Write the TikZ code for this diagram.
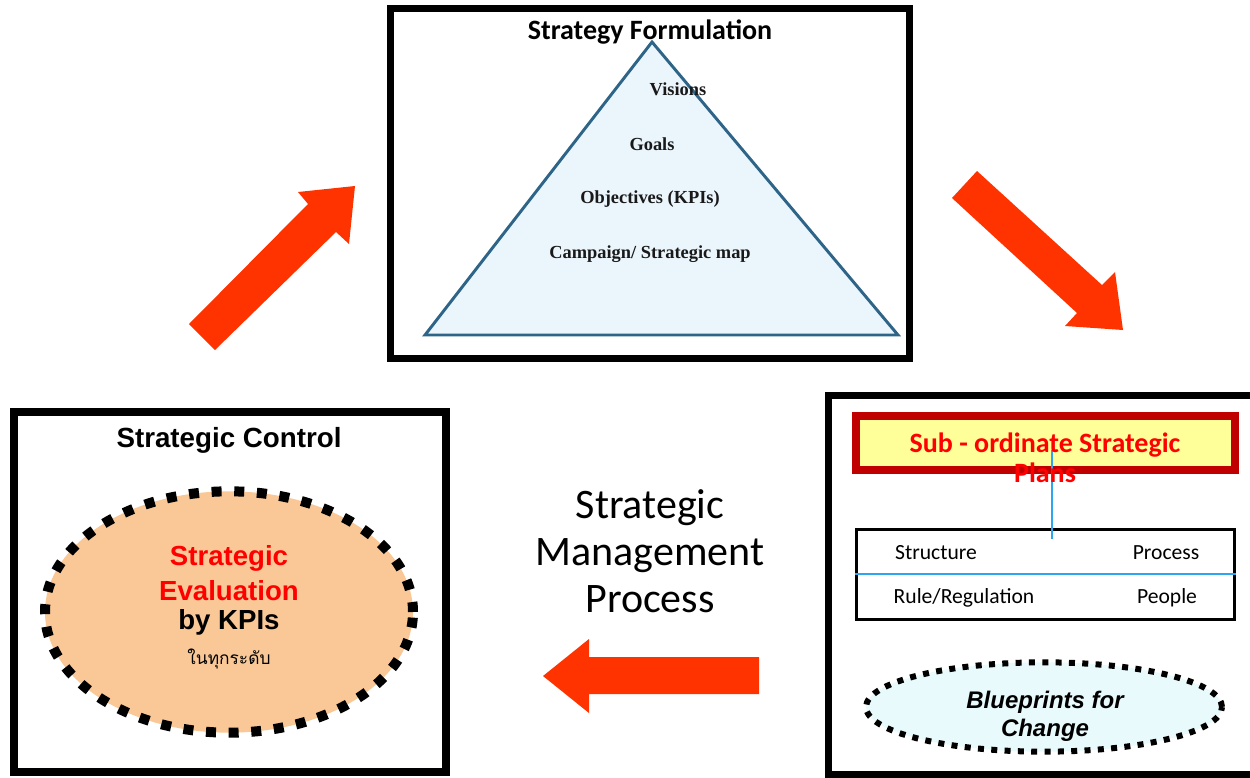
\documentclass[tikz,border=0pt]{standalone}
\usepackage{fontspec}
\setmainfont{Liberation Serif}
\newfontfamily\calibri{Carlito}
\newfontfamily\arialf{Liberation Sans}
\newfontfamily\thaifont[Script=Thai]{Loma}
\usetikzlibrary{shapes.geometric}
\definecolor{arrowred}{RGB}{255,51,0}
\definecolor{trifill}{RGB}{235,245,252}
\definecolor{tristroke}{RGB}{45,100,135}
\definecolor{subyellow}{RGB}{255,255,153}
\definecolor{subred}{RGB}{192,0,0}
\definecolor{lineblue}{RGB}{45,165,240}
\definecolor{evalfill}{RGB}{250,200,150}
\definecolor{bluefill}{RGB}{232,250,252}
\definecolor{brightred}{RGB}{255,0,0}
\tikzset{
  bigbox/.style={draw=black, rectangle, inner sep=0pt, fill=white},
  trilabel/.style={font=\fontsize{13.8pt}{16pt}\selectfont\bfseries, text=black!90, inner sep=0pt},
  tablabel/.style={font=\calibri\fontsize{16.2pt}{19pt}\selectfont, inner sep=0pt},
  blockarrow/.style={fill=arrowred, draw=none},
}
\begin{document}
\begin{tikzpicture}[x=0.75pt,y=-0.75pt]
\useasboundingbox (0,0) rectangle (1250,778);

% ---------- top box: Strategy Formulation
\node[bigbox, line width=5.25pt, minimum width=389pt, minimum height=262pt] (formbox) at (650,183.5) {};
\coordinate (apex) at (652,42);
\coordinate (bl) at (425,335);
\coordinate (br) at (898,335);
\filldraw[fill=trifill, draw=tristroke, line width=2.2pt, line join=miter] (apex) -- (br) -- (bl) -- cycle;
\node[font=\calibri\fontsize{21pt}{25pt}\selectfont\bfseries, inner sep=0pt] (formtitle) at (650,32.5) {Strategy Formulation};
\node[trilabel] (visions) at (678,89) {Visions};
\node[trilabel] (goals) at (652,144) {Goals};
\node[trilabel] (objectives) at (650,199) {Objectives (KPIs)};
\node[trilabel] (campaign) at (650,254) {Campaign/ Strategic map};

% ---------- right box
\node[bigbox, line width=5.25pt, minimum width=324pt, minimum height=284.25pt] (implbox) at (1044,584.5) {};
\node[draw=subred, fill=subyellow, line width=6pt, rectangle, inner sep=0pt, minimum width=284.25pt, minimum height=40.5pt] (subbox) at (1045.5,443) {};
\node[draw=black, line width=2.25pt, rectangle, inner sep=0pt, minimum width=283.5pt, minimum height=67.5pt] (table) at (1045,574) {};
\coordinate (vtop) at (1052,450);
\coordinate (vbot) at (1052,539);
\draw[lineblue, line width=1.5pt] (vtop) -- (vbot);
\draw[lineblue, line width=1.5pt] (table.west) -- (table.east);
\node[font=\calibri\fontsize{21pt}{22.5pt}\selectfont\bfseries, text=brightred, align=center, inner sep=0pt] (subtext) at (1045,458) {Sub - ordinate Strategic\\Plans};
\node[tablabel] (structure) at (936,553) {Structure};
\node[tablabel] (process) at (1166,553) {Process};
\node[tablabel] (rule) at (964,598) {Rule/Regulation};
\node[tablabel] (people) at (1167,598) {People};
\node[ellipse, fill=bluefill, draw=black, line width=4.5pt, dash pattern=on 4.5pt off 5.5pt, minimum width=267pt, minimum height=67pt, inner sep=0pt] (blueprint) at (1044,707) {};
\node[font=\arialf\fontsize{18pt}{21pt}\selectfont\bfseries\itshape, align=center, inner sep=0pt] (blueprinttext) at (1045,716) {Blueprints for\\Change};

% ---------- left box
\node[bigbox, line width=6pt, minimum width=324pt, minimum height=270pt] (ctrlbox) at (230,592) {};
\node[font=\arialf\fontsize{20.8pt}{24pt}\selectfont\bfseries, inner sep=0pt] (ctrltitle) at (229,440) {Strategic Control};
\node[ellipse, fill=evalfill, draw=black, line width=7.5pt, dash pattern=on 7.5pt off 9.5pt, minimum width=276pt, minimum height=181pt, inner sep=0pt] (evalell) at (229,612) {};
\node[font=\arialf\fontsize{20.7pt}{24pt}\selectfont\bfseries, text=brightred, inner sep=0pt] (eval1) at (229,558) {Strategic};
\node[font=\arialf\fontsize{20.7pt}{24pt}\selectfont\bfseries, text=brightred, inner sep=0pt] (eval2) at (229,591) {Evaluation};
\node[font=\arialf\fontsize{20.7pt}{24pt}\selectfont\bfseries, inner sep=0pt] (eval3) at (229,622) {by KPIs};
\node[font=\thaifont\fontsize{13pt}{15pt}\selectfont, inner sep=0pt] (eval4) at (229,659) {ในทุกระดับ};

% ---------- centre label
\node[font=\calibri\fontsize{31.5pt}{35.25pt}\selectfont, align=center, inner sep=0pt] (smp) at (650,551) {Strategic\\Management\\Process};

% ---------- block arrows
\fill[blockarrow] (189,324) -- (308,204) -- (298,192) -- (355,186) -- (349,244) -- (336,232) -- (215,350) -- cycle;
\fill[blockarrow] (952,198) -- (977,171) -- (1102,285) -- (1115,272) -- (1123,330) -- (1065,326) -- (1077,313) -- cycle;
\fill[blockarrow] (543,676) -- (589,639) -- (589,657) -- (759,657) -- (759,694) -- (589,694) -- (589,713) -- cycle;
\end{tikzpicture}
\end{document}
